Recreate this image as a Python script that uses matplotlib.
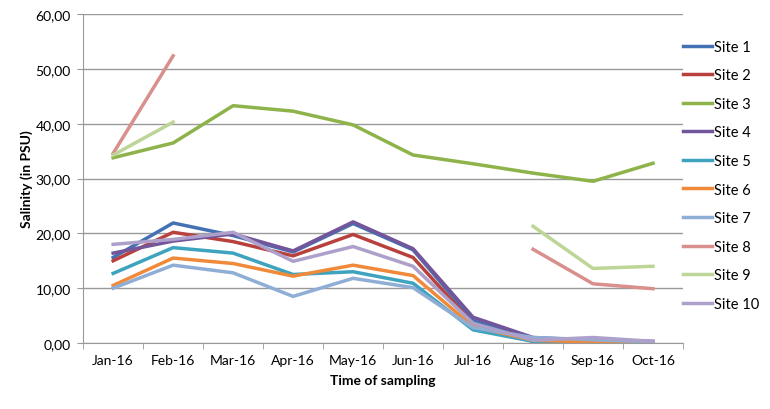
import numpy as np
import matplotlib
matplotlib.use("Agg")
import matplotlib.pyplot as plt
from matplotlib.ticker import FuncFormatter, FixedLocator

plt.rcParams['font.family'] = ['Lato', 'DejaVu Sans']

# Data
months = ['Jan-16', 'Feb-16', 'Mar-16', 'Apr-16', 'May-16',
          'Jun-16', 'Jul-16', 'Aug-16', 'Sep-16', 'Oct-16']
nan = np.nan
site1 = [15.6, 21.9, 19.6, 16.6, 21.8, 17.0, 4.1, 0.6, 0.5, 0.2]
site2 = [15.0, 20.2, 18.5, 15.9, 19.8, 15.6, 3.5, 0.3, 0.3, 0.2]
site3 = [33.8, 36.5, 43.3, 42.3, 39.8, 34.3, 32.7, 31.0, 29.5, 32.8]
site4 = [16.4, 18.6, 19.9, 16.8, 22.1, 17.2, 4.7, 1.0, 0.5, 0.3]
site5 = [12.7, 17.4, 16.4, 12.5, 13.0, 10.9, 2.4, 0.3, 0.2, 0.1]
site6 = [10.5, 15.5, 14.5, 12.2, 14.2, 12.3, 3.0, 0.5, 0.2, 0.1]
site7 = [10.0, 14.2, 12.8, 8.5, 11.8, 10.1, 2.8, 1.0, 0.6, 0.2]
site8 = [34.6, 52.4, nan, nan, nan, nan, nan, 17.1, 10.8, 9.9]
site9 = [34.3, 40.3, nan, nan, nan, nan, nan, 21.3, 13.6, 14.0]
site10 = [18.0, 18.9, 20.2, 14.9, 17.6, 14.0, 3.6, 0.5, 1.0, 0.3]

series = [site1, site2, site3, site4, site5, site6, site7, site8, site9, site10]
labels = ['Site %d' % i for i in range(1, 11)]
colors = ['#4471B3', '#B8413E', '#8DB34A', '#72559A', '#3DA3BE',
          '#F08A3A', '#8FAED6', '#D98F8C', '#BDD596', '#ADA0CB']

fig = plt.figure(figsize=(7.7, 4.1), dpi=100)
ax = fig.add_axes([0.108, 0.161, 0.779, 0.802])

x = np.arange(len(months))
for vals, lab, col in zip(series, labels, colors):
    ax.plot(x, vals, color=col, lw=2.5, label=lab)

ax.set_xlim(-0.5, len(months) - 0.5)
ax.set_ylim(0, 60)
ax.set_yticks(np.arange(0, 61, 10))
ax.yaxis.set_major_formatter(FuncFormatter(lambda v, p: ('%.2f' % v).replace('.', ',')))
ax.set_xticks(x)
ax.set_xticklabels(months)
ax.xaxis.set_minor_locator(FixedLocator(np.arange(-0.5, len(months), 1.0)))
ax.tick_params(axis='x', which='major', length=0, pad=8, labelsize=10)
ax.tick_params(axis='x', which='minor', length=4, color='#999999')
ax.tick_params(axis='y', length=4, color='#999999', labelsize=10, pad=5)

ax.grid(axis='y', color='#999999', lw=1)
ax.set_axisbelow(True)
for s in ['top', 'right']:
    ax.spines[s].set_visible(False)
for s in ['left', 'bottom']:
    ax.spines[s].set_color('#999999')

ax.set_xlabel('Time of sampling', fontsize=10, fontweight='bold', labelpad=6)
ax.set_ylabel('Salinity (in PSU)', fontsize=10, fontweight='bold', labelpad=2)

ax.legend(loc='center left', bbox_to_anchor=(1.0, 0.51), frameon=False,
          fontsize=10.5, labelspacing=1.0, handlelength=2.0, handletextpad=0.15,
          borderaxespad=0, borderpad=0)

fig.savefig('out.png', dpi=100)
